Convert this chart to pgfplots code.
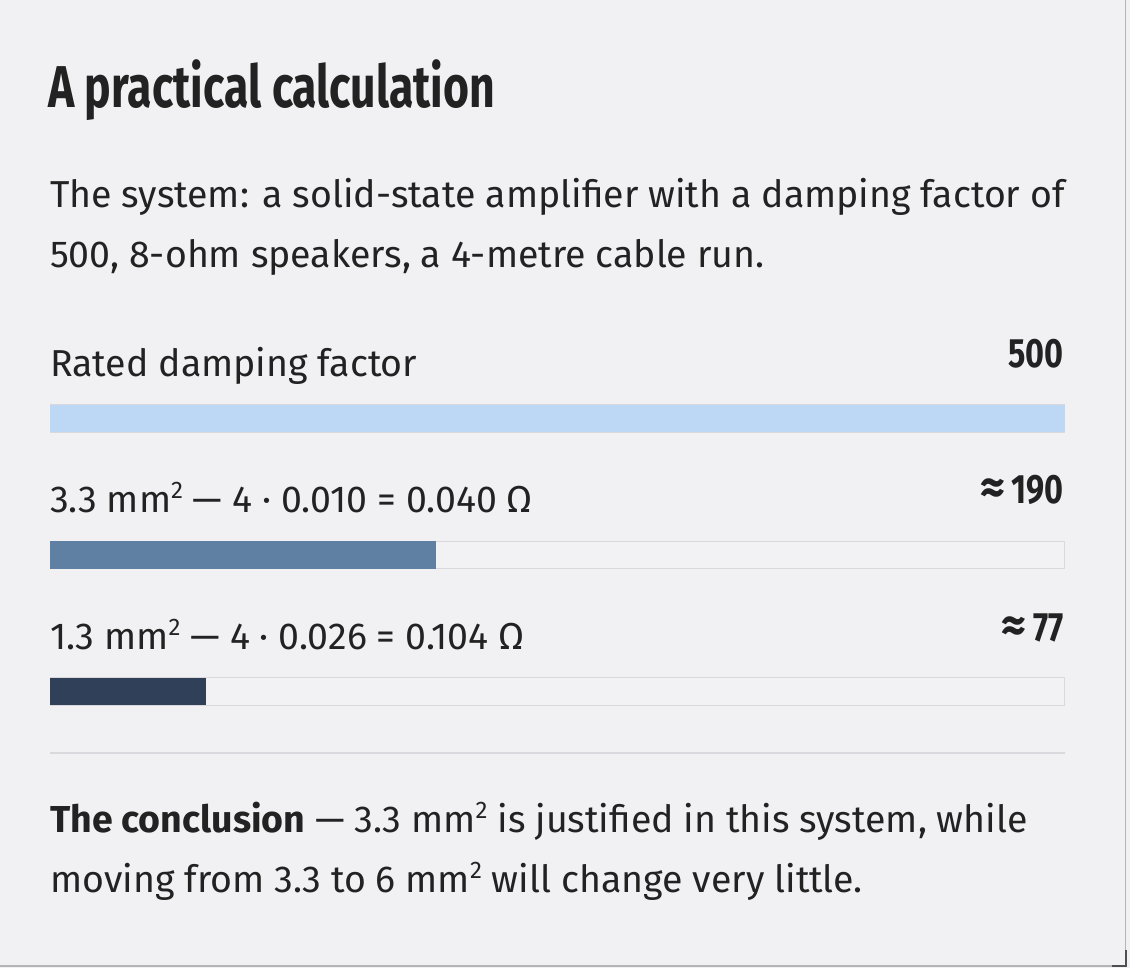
\documentclass[border=0pt]{standalone}
\usepackage{fontspec}
\usepackage{pgfplots}
\pgfplotsset{compat=1.18}
\setmainfont{Fira Sans}
\newfontfamily\bodyfont{Fira Sans}
\newfontfamily\boldbody{Fira Sans Bold}
\newfontfamily\titlefont{Fira Sans Bold}[FakeStretch=0.755]
\newfontfamily\valfont{Fira Sans Bold}[FakeStretch=0.79]
\definecolor{bg}{HTML}{F1F1F3}
\definecolor{ink}{HTML}{222222}
\definecolor{trackline}{HTML}{D9D9DD}
\definecolor{trackfill}{HTML}{F2F2F4}
\definecolor{barA}{HTML}{BCD8F5}
\definecolor{barB}{HTML}{5F7FA3}
\definecolor{barC}{HTML}{2F4058}
\definecolor{frame}{HTML}{B4B4B8}
\newcommand{\sq}{\raisebox{0.35em}{\fontsize{24}{24}\selectfont 2}}
\newcommand{\approxsign}{{\boldbody\fontsize{48}{50}\selectfont ≈}\hspace{7pt}}
\begin{document}
\begin{tikzpicture}[x=1pt,y=-1pt]
\useasboundingbox (0,0) rectangle (1130,968);
\fill[bg] (0,0) rectangle (1130,968);
\draw[frame, line width=1.5pt] (1125.5,0) -- (1125.5,966) -- (0,966);
\draw[ink!80, line width=1.5pt] (1126,950) -- (1126,966) -- (1112,966);
% title
\node[anchor=base west, inner sep=0pt, text=ink] at (48,108) {\titlefont\fontsize{59}{70}\selectfont A practical calculation};
% paragraph
\node[anchor=base west, inner sep=0pt, text=ink] at (50,208) {\bodyfont\fontsize{37.5}{50}\selectfont The system: a solid-state amplifier with a damping factor of};
\node[anchor=base west, inner sep=0pt, text=ink] at (50,268) {\bodyfont\fontsize{37.5}{50}\selectfont 500, 8-ohm speakers, a 4-metre cable run.};
% bar labels
\node[anchor=base west, inner sep=0pt, text=ink] at (50,376) {\bodyfont\fontsize{37.5}{50}\selectfont Rated damping factor};
\node[anchor=base west, inner sep=0pt, text=ink] at (50,512) {\bodyfont\fontsize{37.5}{50}\selectfont 3.3 mm\sq{} — 4 · 0.010 = 0.040 Ω};
\node[anchor=base west, inner sep=0pt, text=ink] at (50,649) {\bodyfont\fontsize{37.5}{50}\selectfont 1.3 mm\sq{} — 4 · 0.026 = 0.104 Ω};
% values
\node[anchor=base east, inner sep=0pt, text=ink] at (1064,367) {\valfont\fontsize{41}{50}\selectfont 500};
\node[anchor=base east, inner sep=0pt, text=ink] at (1064,503) {\approxsign{\valfont\fontsize{41}{50}\selectfont 190}};
\node[anchor=base east, inner sep=0pt, text=ink] at (1064,641) {\approxsign{\valfont\fontsize{41}{50}\selectfont 77}};
% separator
\draw[trackline, line width=1.5pt] (50,753) -- (1065,753);
% conclusion
\node[anchor=base west, inner sep=0pt, text=ink] at (50,832) {\fontsize{37.5}{50}\selectfont{\boldbody The conclusion} \bodyfont — 3.3 mm\sq{} is justified in this system, while};
\node[anchor=base west, inner sep=0pt, text=ink] at (50,892) {\bodyfont\fontsize{37.5}{50}\selectfont moving from 3.3 to 6 mm\sq{} will change very little.};
% bars
\begin{axis}[
  at={(50pt,-705pt)}, anchor=south west,
  scale only axis, width=1015pt, height=301pt,
  xmin=0, xmax=500, ymin=-705, ymax=-404,
  axis lines=none, ticks=none, clip=false,
  xbar, bar shift=0pt, bar width=27.5,
]
\addplot[fill=trackfill, draw=trackline, line width=1pt] coordinates {(500,-418.5) (500,-555) (500,-691.5)};
\addplot[fill=barA, draw=none] coordinates {(500,-418.5)};
\addplot[fill=barB, draw=none] coordinates {(190,-555)};
\addplot[fill=barC, draw=none] coordinates {(77,-691.5)};
\end{axis}
\end{tikzpicture}
\end{document}
